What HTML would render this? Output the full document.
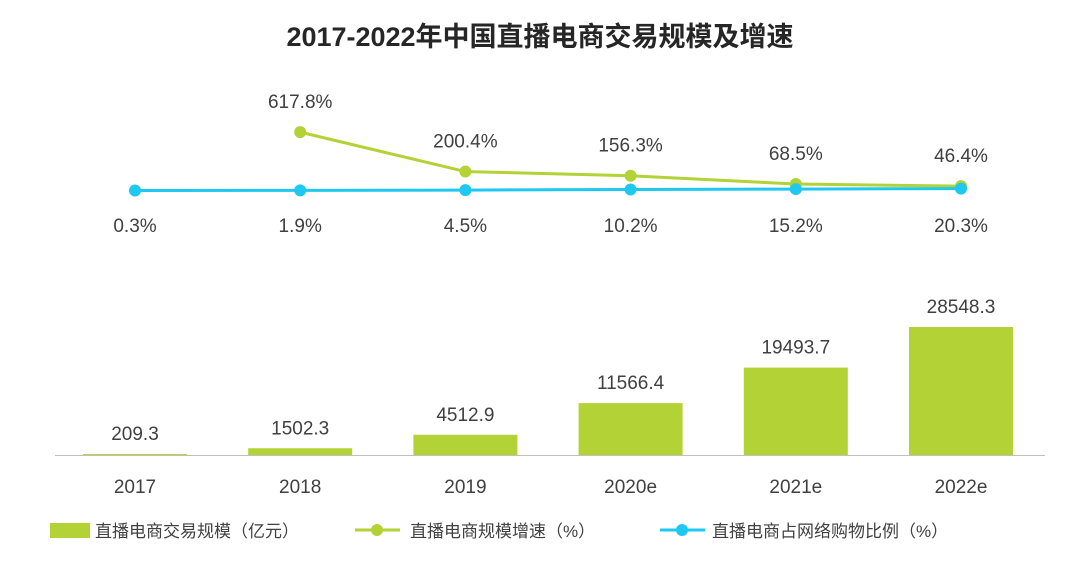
<!DOCTYPE html>
<html><head><meta charset="utf-8"><style>
body{margin:0;background:#fff;}
svg text{font-family:"Liberation Sans","Noto Sans CJK SC",sans-serif;fill:#404040;}
</style></head><body>
<svg width="1080" height="562">
<text x="540" y="46" text-anchor="middle" font-size="27" font-weight="bold" style="fill:#262626">2017-2022年中国直播电商交易规模及增速</text>
<g id="bars"></g><g id="lines"></g>
<line x1="55" y1="455.5" x2="1045" y2="455.5" stroke="#bfbfbf" stroke-width="1"/>
<g id="xt"></g>
<g>
<rect x="50" y="523" width="40" height="15" fill="#b2d235"/>
<text x="95" y="537" font-size="17">直播电商交易规模（亿元）</text>
<line x1="355" y1="530" x2="400" y2="530" stroke="#b2d235" stroke-width="3"/>
<circle cx="377" cy="530" r="6" fill="#b2d235"/>
<text x="410" y="537" font-size="17">直播电商规模增速（%）</text>
<line x1="660" y1="530" x2="705" y2="530" stroke="#1ec8f0" stroke-width="3"/>
<circle cx="682" cy="530" r="6" fill="#1ec8f0"/>
<text x="712" y="537" font-size="17">直播电商占网络购物比例（%）</text>
</g>
</svg>
<script>
const categories=["2017","2018","2019","2020e","2021e","2022e"];
const scaleValues=[209.3,1502.3,4512.9,11566.4,19493.7,28548.3];
const growthValues=[null,617.8,200.4,156.3,68.5,46.4];
const shareValues=[0.3,1.9,4.5,10.2,15.2,20.3];
const NS="http://www.w3.org/2000/svg";
function xPos(i){return 135+i*165.2;}
function yBar(v){return 455-v*128/28548.3;}
function yLine(v){return 190.5-v*0.0945;}
function mk(t,a,p){const e=document.createElementNS(NS,t);for(const k in a)e.setAttribute(k,a[k]);p.appendChild(e);return e;}
const bars=document.getElementById("bars"),lines=document.getElementById("lines"),xt=document.getElementById("xt");
categories.forEach((c,i)=>{
 const x=xPos(i),y=yBar(scaleValues[i]);
 const r=mk("rect",{x:x-52,y:y,width:104,height:455-y,fill:"#b2d235"},bars);
 
 
 const t=mk("text",{x:x,y:y-14,"text-anchor":"middle","font-size":"19"},bars);t.textContent=scaleValues[i].toFixed(1);
 
 
 const l=mk("text",{x:x,y:493,"text-anchor":"middle","font-size":"19"},xt);l.textContent=c;
 
 
});
function series(vals,color,name,above){
 const pts=[];vals.forEach((v,i)=>{if(v!==null)pts.push([xPos(i),yLine(v),v]);});
 const pl=mk("polyline",{points:pts.map(p=>p[0]+","+p[1]).join(" "),fill:"none",stroke:color,"stroke-width":"3"},lines);
 
 
 pts.forEach(p=>{
  const c=mk("circle",{cx:p[0],cy:p[1],r:6,fill:color},lines);
  
  
  const t=mk("text",{x:p[0],y:above?p[1]-24:232,"text-anchor":"middle","font-size":"19"},lines);t.textContent=p[2].toFixed(1)+"%";
  
  
 });
}
series(growthValues,"#b2d235","growth",true);
series(shareValues,"#1ec8f0","share",false);
</script>
</body></html>
